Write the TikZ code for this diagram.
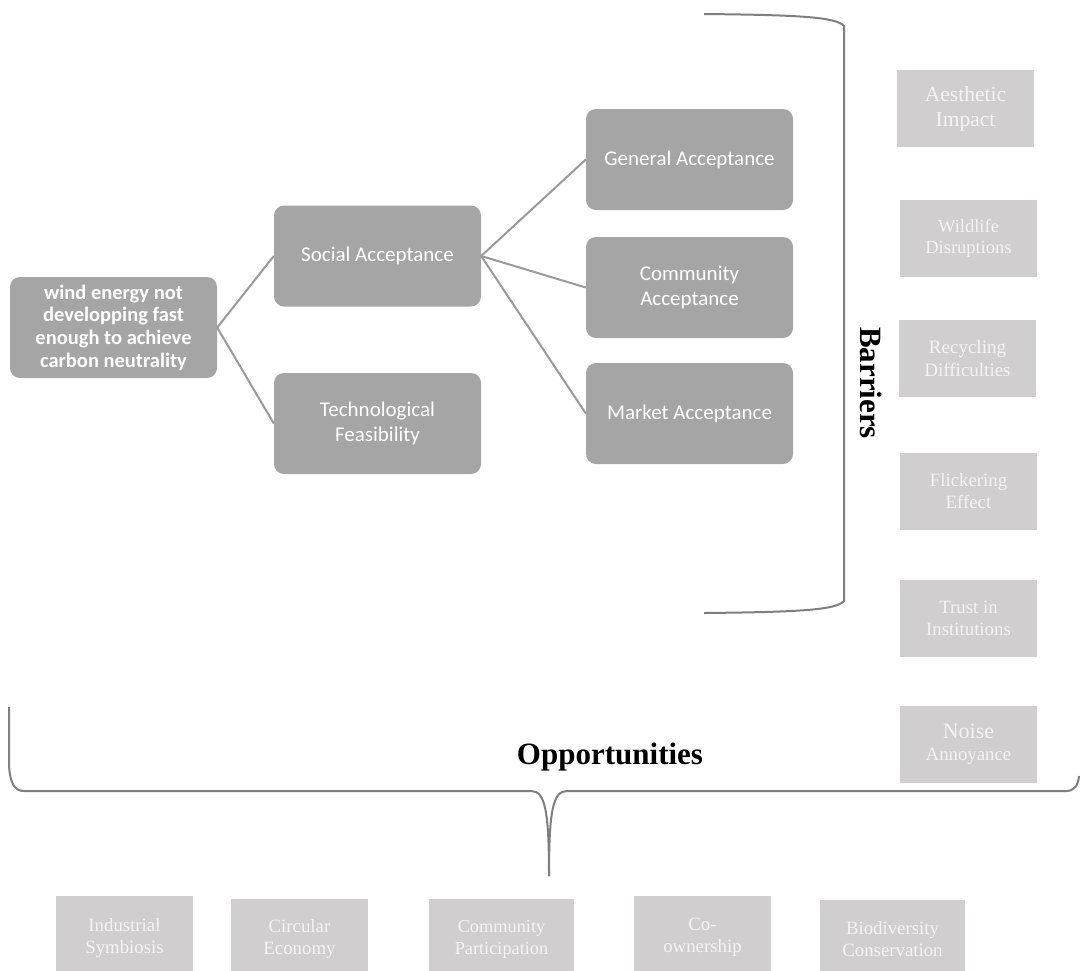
\documentclass[tikz,border=0pt]{standalone}
\usepackage{fontspec}
\setmainfont{Liberation Serif}
\newfontfamily\calfont{Carlito}
\definecolor{dgray}{HTML}{A5A5A5}
\definecolor{lgray}{HTML}{D0CECE}
\definecolor{ltext}{HTML}{F4F4F4}
\definecolor{conncol}{HTML}{9A9A9A}
\definecolor{bracecol}{HTML}{7F7F7F}
\begin{document}
\begin{tikzpicture}[x=1pt,y=-1pt,
  dbox/.style={fill=dgray, rounded corners=10pt, text=white, align=center, inner sep=0pt,
    minimum width=207pt, minimum height=101pt, font=\calfont\fontsize{21}{25}\selectfont},
  lbox/.style={fill=lgray, text=ltext, align=center, inner sep=0pt,
    minimum width=137pt, font=\fontsize{18.8}{22}\selectfont},
  conn/.style={draw=conncol, line width=2pt},
  bracket/.style={draw=bracecol, line width=2pt},
  title/.style={font=\bfseries\fontsize{31}{36}\selectfont, text=black}]
\fill[white] (0,0) rectangle (1081,970);
\useasboundingbox (0,0) rectangle (1081,970);

% main tree
\node[dbox, font=\calfont\bfseries\fontsize{20.5}{22.7}\selectfont] (main) at (113.5,327.5) {wind energy not\\developping fast\\enough to achieve\\carbon neutrality};
\node[dbox] (soc) at (377.5,256) {Social Acceptance};
\node[dbox] (tech) at (377.5,423.5) {Technological\\Feasibility};
\node[dbox] (gen) at (689.5,159.5) {General Acceptance};
\node[dbox] (com) at (689.5,287.5) {Community\\Acceptance};
\node[dbox] (mar) at (689.5,413.5) {Market Acceptance};

\draw[conn] (main.east) -- (soc.west);
\draw[conn] (main.east) -- (tech.west);
\draw[conn] (soc.east) -- (gen.west);
\draw[conn] (soc.east) -- (com.west);
\draw[conn] (soc.east) -- (mar.west);

% barriers bracket
\coordinate (bt) at (704,14);
\coordinate (bb) at (704,613);
\draw[bracket] (bt) .. controls (800,15) and (836,17) .. (844,26) -- (844,601)
  .. controls (836,610) and (800,612) .. (bb);
\node[title, rotate=-90] (barriers) at (871,383) {Barriers};

% barrier boxes
\node[lbox, minimum height=77pt, font=\fontsize{21.5}{25}\selectfont] (aes) at (965.5,108.5) {Aesthetic\\Impact};
\node[lbox, minimum height=77pt, font=\fontsize{18.5}{21.7}\selectfont] (wild) at (968.5,238.5) {Wildlife\\Disruptions};
\node[lbox, minimum height=77pt, font=\fontsize{19}{23}\selectfont] (rec) at (967.5,358.5) {Recycling\\Difficulties};
\node[lbox, minimum height=77pt] (flick) at (968.5,491.5) {Flickering\\Effect};
\node[lbox, minimum height=77pt] (trust) at (968.5,618.5) {Trust in\\Institutions};
\node[lbox, minimum height=77pt] (noise) at (968.5,744.5) {{\fontsize{22}{22}\selectfont Noise}\\Annoyance};

% opportunities brace
\coordinate (ol) at (9,707);
\coordinate (or) at (1079,776);
\coordinate (tip) at (549,876);
\draw[bracket] (ol) -- (9,765) .. controls (10,784) and (15,791) .. (24,791) -- (531,791)
  .. controls (545,791) and (549,810) .. (tip);
\draw[bracket] (tip) .. controls (549,810) and (553,791) .. (567,791) -- (1066,791)
  .. controls (1074,791) and (1078,786) .. (or);
\node[title] (opp) at (610,757) {Opportunities};

% opportunity boxes
\node[lbox, minimum height=83pt] (ind) at (124.5,937.5) {Industrial\\Symbiosis};
\node[lbox, minimum height=80pt] (circ) at (299.5,939) {Circular\\Economy};
\node[lbox, minimum width=145pt, minimum height=80pt, font=\fontsize{18.3}{22}\selectfont] (part) at (501.5,939) {Community\\Participation};
\node[lbox, minimum height=83pt] (coown) at (702.5,937.5) {Co-\\ownership};
\node[lbox, minimum width=145pt, minimum height=79pt] (bio) at (892.5,939.5) {Biodiversity\\Conservation};
\end{tikzpicture}
\end{document}
